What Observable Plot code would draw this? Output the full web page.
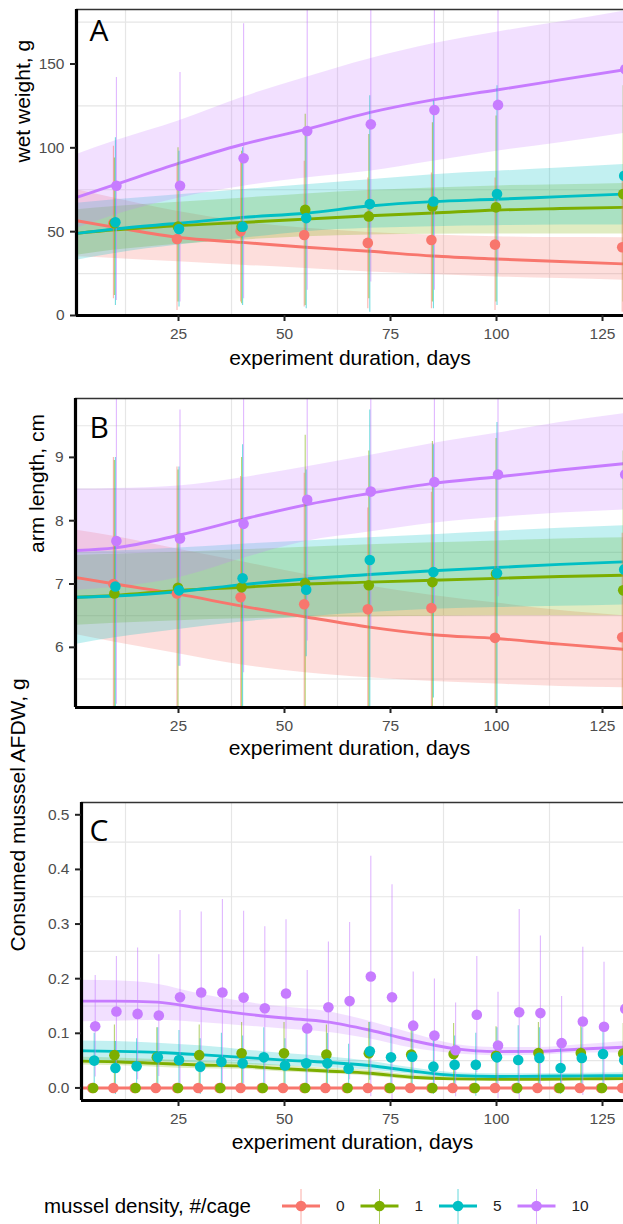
<!DOCTYPE html>
<html><head><meta charset="utf-8">
<script src="https://cdn.jsdelivr.net/npm/d3@7"></script>
<script src="https://cdn.jsdelivr.net/npm/@observablehq/plot@0.6"></script>
<style>
html,body{margin:0;padding:0;background:#fff;overflow:hidden;}
#root{position:relative;width:623px;height:1224px;font-family:"Liberation Sans",Arial,sans-serif;overflow:hidden;}
#root svg{position:absolute;left:0;}
</style></head><body><div id="root"></div>
<script>
// ---------- categories & colours ----------
const groups = ["0", "1", "5", "10"];
const colors = ["#F8766D", "#7CAE00", "#00BFC4", "#C77CFF"];
const legendTitle = "mussel density, #/cage";
const xTitle = "experiment duration, days";
const xTicks = [25, 50, 75, 100, 125];
const xGrid = [12.5, 37.5, 62.5, 87.5, 112.5];

// ---------- Panel A: wet weight ----------
const daysA = [10, 25, 40, 55, 70, 85, 100, 130];
const wet0 = [55.0, 45.6, 50.2, 48.0, 43.3, 45.0, 42.3, 40.7];
const wet1 = [55.0, 53.0, 53.0, 63.0, 59.1, 65.0, 64.5, 72.4];
const wet5 = [55.6, 51.6, 53.0, 58.1, 66.5, 68.0, 72.4, 83.3];
const wet10 = [77.4, 77.4, 93.8, 110.0, 114.0, 122.6, 125.6, 146.8];
const wetLo0 = [10, 3, 8, 5, 4, 4, 3, 2];
const wetHi0 = [101, 90, 93, 92, 82, 85, 82, 80];
const wetLo1 = [12, 8, 7, 6, 10, 8, 8, 8];
const wetHi1 = [94, 100, 98, 120, 108, 115, 119, 137];
const wetLo5 = [6, 5, 6, 4, 2, 4, 6, 10];
const wetHi5 = [106, 98, 100, 112, 131, 128, 137, 155];
const wetLo10 = [9, 8, 10, 15, 20, 15, 25, 30];
const wetHi10 = [142, 145, 174, 210, 215, 230, 230, 260];
const fitDaysA = [1, 10, 25, 40, 55, 70, 85, 100, 115, 130];
const wetFit0 = [56.5, 52.6, 46.5, 43.6, 40.7, 38.3, 35.5, 33.7, 32.2, 30.8];
const wetFit1 = [49, 51.1, 53.6, 55.5, 57.5, 59.5, 61.1, 62.9, 63.8, 64.5];
const wetFit5 = [49, 51.6, 55, 58.5, 61, 65.3, 67.9, 69.3, 70.9, 72.4];
const wetFit10 = [70.4, 78, 90.7, 102, 111, 121, 128.6, 134.5, 140.5, 146.5];
const wetBandLo0 = [35, 34, 32, 30, 28, 26, 24.5, 23, 22, 21];
const wetBandHi0 = [75, 70, 62, 56, 52, 49.5, 48, 47, 46.5, 46.4];
const wetBandLo1 = [36, 39, 42.5, 45, 47, 48, 48.5, 48.6, 48.6, 48.6];
const wetBandHi1 = [63, 65, 67.5, 70, 72.5, 74.5, 76, 77.3, 78, 78.8];
const wetBandLo5 = [33, 37, 42, 46, 50, 52, 53, 53.5, 54, 54];
const wetBandHi5 = [67, 69, 72, 75, 78, 81, 84, 86, 88, 90];
const wetBandLo10 = [52, 60, 70, 77, 82, 86, 92, 98, 103, 108.5];
const wetBandHi10 = [96, 104, 116, 130, 142, 153, 162, 169, 175, 181.5];
const yTicksA = [0, 50, 100, 150];
const yGridA = [25, 75, 125, 175];

// ---------- Panel B: arm length ----------
const daysB = [10, 25, 40, 55, 70, 85, 100, 130];
const arm0 = [7.0, 6.85, 6.79, 6.68, 6.6, 6.62, 6.15, 6.16];
const arm1 = [6.85, 6.94, 6.95, 7.01, 6.98, 7.03, 7.16, 6.9];
const arm5 = [6.96, 6.9, 7.09, 6.91, 7.38, 7.19, 7.17, 7.23];
const arm10 = [7.68, 7.72, 7.95, 8.33, 8.46, 8.61, 8.73, 8.73];
const armLo0 = [4.9, 4.8, 4.9, 4.9, 5.0, 4.8, 4.6, 4.6];
const armHi0 = [9.0, 8.85, 8.7, 8.75, 8.2, 8.45, 8.0, 7.8];
const armLo1 = [4.7, 4.9, 4.9, 4.8, 4.9, 4.8, 4.9, 4.8];
const armHi1 = [8.95, 8.8, 9.0, 9.35, 9.1, 9.25, 9.3, 9.1];
const armLo5 = [4.9, 5.7, 5.0, 5.85, 5.0, 5.2, 4.8, 5.2];
const armHi5 = [9.0, 8.85, 9.2, 8.8, 9.75, 9.2, 9.55, 9.3];
const armLo10 = [5.1, 5.7, 5.6, 6.1, 6.3, 6.6, 6.8, 6.9];
const armHi10 = [10.3, 9.75, 10.3, 10.5, 10.5, 10.5, 10.5, 10.5];
const fitDaysB = [1, 10, 25, 40, 55, 70, 85, 100, 115, 130];
const armFit0 = [7.1, 7.0, 6.84, 6.65, 6.48, 6.32, 6.2, 6.14, 6.05, 5.97];
const armFit1 = [6.79, 6.82, 6.9, 6.95, 7.0, 7.03, 7.06, 7.09, 7.12, 7.14];
const armFit5 = [6.79, 6.81, 6.88, 6.99, 7.08, 7.15, 7.21, 7.26, 7.31, 7.35];
const armFit10 = [7.53, 7.57, 7.77, 8.02, 8.25, 8.43, 8.59, 8.69, 8.8, 8.9];
const armBandLo0 = [6.2, 6.08, 5.9, 5.72, 5.6, 5.52, 5.46, 5.42, 5.38, 5.36];
const armBandHi0 = [7.85, 7.75, 7.55, 7.35, 7.15, 6.97, 6.82, 6.7, 6.58, 6.5];
const armBandLo1 = [6.35, 6.38, 6.42, 6.45, 6.47, 6.48, 6.49, 6.5, 6.5, 6.5];
const armBandHi1 = [7.45, 7.47, 7.5, 7.54, 7.58, 7.62, 7.65, 7.68, 7.71, 7.73];
const armBandLo5 = [6.05, 6.15, 6.28, 6.4, 6.48, 6.55, 6.6, 6.63, 6.65, 6.67];
const armBandHi5 = [7.5, 7.52, 7.57, 7.63, 7.68, 7.73, 7.78, 7.83, 7.88, 7.92];
const armBandLo10 = [6.9, 6.95, 7.1, 7.4, 7.67, 7.82, 7.96, 8.05, 8.12, 8.17];
const armBandHi10 = [8.5, 8.51, 8.55, 8.68, 8.85, 9.03, 9.22, 9.38, 9.55, 9.69];
const yTicksB = [6, 7, 8, 9];
const yGridB = [5.5, 6.5, 7.5, 8.5, 9.5];

// ---------- Panel C: consumed mussel AFDW ----------
const daysC = [5, 10, 15, 20, 25, 30, 35, 40, 45, 50, 55, 60, 65, 70, 75, 80, 85, 90, 95, 100, 105, 110, 115, 120, 125, 130];
const afdw0 = [0, 0, 0, 0, 0, 0, 0, 0, 0, 0, 0, 0, 0, 0, 0, 0, 0, 0, 0, 0, 0, 0, 0, 0, 0, 0];
const afdw1 = [0, 0.06, 0, 0.056, 0, 0.06, 0, 0.0635, 0, 0.0635, 0, 0.061, 0, 0.0635, 0, 0.061, 0, 0.062, 0, 0.059, 0, 0.064, 0, 0.064, 0, 0.063];
const afdw5 = [0.05, 0.0366, 0.0397, 0.056, 0.051, 0.039, 0.048, 0.045, 0.056, 0.041, 0.045, 0.045, 0.035, 0.067, 0.056, 0.057, 0.039, 0.0425, 0.0425, 0.056, 0.051, 0.055, 0.0366, 0.055, 0.062, 0.051];
const afdw10 = [0.113, 0.14, 0.1355, 0.1325, 0.166, 0.1746, 0.1746, 0.1654, 0.146, 0.1728, 0.109, 0.1477, 0.159, 0.204, 0.166, 0.114, 0.0958, 0.069, 0.134, 0.0775, 0.1385, 0.137, 0.082, 0.1215, 0.112, 0.1447];
const afdwLo0 = afdw0;
const afdwHi0 = afdw0;
const afdwLo1 = [0, 0.005, 0, 0.002, 0, 0.005, 0, 0.007, 0, 0.007, 0, 0.007, 0, 0.007, 0, 0.007, 0, 0.006, 0, 0.006, 0, 0.008, 0, 0.008, 0, 0.008];
const afdwHi1 = [0, 0.115, 0, 0.11, 0, 0.115, 0, 0.12, 0, 0.12, 0, 0.115, 0, 0.12, 0, 0.115, 0, 0.118, 0, 0.112, 0, 0.12, 0, 0.12, 0, 0.118];
const afdwLo5 = [0.0, -0.012, -0.01, 0.002, -0.003, -0.012, -0.004, -0.005, 0.002, -0.008, -0.01, -0.01, -0.01, 0.014, 0.002, 0.004, -0.012, -0.01, -0.015, 0.002, -0.012, 0.0, -0.012, 0.0, 0.004, 0.002];
const afdwHi5 = [0.1, 0.085, 0.09, 0.11, 0.105, 0.09, 0.1, 0.095, 0.11, 0.09, 0.1, 0.1, 0.08, 0.12, 0.11, 0.11, 0.09, 0.095, 0.1, 0.11, 0.114, 0.11, 0.085, 0.11, 0.12, 0.1];
const afdwLo10 = [0.02, 0.04, 0.015, 0.021, 0.007, 0.027, 0.004, 0.007, -0.003, 0.038, 0.003, 0.028, 0.015, -0.016, -0.04, 0.016, -0.01, -0.016, 0.028, -0.02, -0.049, -0.004, -0.002, -0.014, -0.006, 0.03];
const afdwHi10 = [0.206, 0.2405, 0.256, 0.244, 0.325, 0.322, 0.345, 0.3236, 0.295, 0.308, 0.215, 0.267, 0.303, 0.424, 0.372, 0.212, 0.1996, 0.1555, 0.2405, 0.175, 0.3266, 0.278, 0.1675, 0.2575, 0.23, 0.26];
const fitDaysC = [2, 10, 20, 30, 40, 50, 60, 70, 80, 90, 100, 110, 120, 130];
const afdwFit0 = [0, 0, 0, 0, 0, 0, 0, 0, 0, 0, 0, 0, 0, 0];
const afdwFit1 = [0.049, 0.048, 0.045, 0.042, 0.04, 0.035, 0.031, 0.027, 0.0195, 0.0165, 0.016, 0.016, 0.0165, 0.017];
const afdwFit5 = [0.068, 0.067, 0.065, 0.061, 0.056, 0.051, 0.047, 0.041, 0.031, 0.023, 0.021, 0.0215, 0.022, 0.0226];
const afdwFit10 = [0.159, 0.159, 0.157, 0.146, 0.136, 0.128, 0.121, 0.106, 0.087, 0.072, 0.0665, 0.067, 0.0714, 0.0745];
const afdwBandLo0 = afdwFit0;
const afdwBandHi0 = afdwFit0;
const afdwBandLo1 = [0.042, 0.041, 0.038, 0.035, 0.034, 0.029, 0.026, 0.022, 0.015, 0.013, 0.013, 0.013, 0.013, 0.013];
const afdwBandHi1 = [0.056, 0.055, 0.052, 0.049, 0.046, 0.041, 0.036, 0.032, 0.024, 0.02, 0.019, 0.019, 0.02, 0.021];
const afdwBandLo5 = [0.05, 0.049, 0.048, 0.046, 0.043, 0.04, 0.037, 0.033, 0.025, 0.018, 0.016, 0.017, 0.017, 0.017];
const afdwBandHi5 = [0.086, 0.085, 0.082, 0.077, 0.07, 0.063, 0.057, 0.049, 0.037, 0.028, 0.026, 0.026, 0.027, 0.028];
const afdwBandLo10 = [0.121, 0.122, 0.124, 0.12, 0.114, 0.108, 0.102, 0.09, 0.073, 0.063, 0.059, 0.06, 0.064, 0.064];
const afdwBandHi10 = [0.197, 0.196, 0.19, 0.172, 0.158, 0.148, 0.14, 0.122, 0.1, 0.08, 0.074, 0.074, 0.079, 0.085];
const yTicksC = [0, 0.1, 0.2, 0.3, 0.4, 0.5];
const yGridC = [0.05, 0.15, 0.25, 0.35, 0.45];

// ---------- table builders ----------
function pointRows(days, means, los, his) {
  const rows = [];
  groups.forEach((g, i) => days.forEach((d, j) => rows.push({day: d, g, mean: means[i][j], lo: los[i][j], hi: his[i][j]})));
  return rows;
}
function fitRows(days, fits, los, his) {
  const rows = [];
  groups.forEach((g, i) => days.forEach((d, j) => rows.push({day: d, g, fit: fits[i][j], blo: los[i][j], bhi: his[i][j]})));
  return rows;
}

const root = document.getElementById("root");
const dodge = [-1.5, -0.5, 0.5, 1.5];

function panel(cfg) {
  const fb = cfg.height - cfg.marginBottom; // frame bottom within svg
  const marks = [
    Plot.ruleY(cfg.yGrid, {stroke: "#e6e6e6", strokeWidth: 1.2}),
    Plot.ruleX(xGrid, {stroke: "#e6e6e6", strokeWidth: 1.2}),
    Plot.areaY(cfg.fits, {x: "day", y1: "blo", y2: "bhi", z: "g", fill: "g", fillOpacity: 0.24, curve: "monotone-x", clip: true}),
    Plot.line(cfg.fits, {x: "day", y: "fit", z: "g", stroke: "g", strokeWidth: 2.9, curve: "monotone-x", clip: true})
  ];
  groups.forEach((g, i) => {
    marks.push(Plot.ruleX(cfg.rows.filter(r => r.g === g), {x: "day", y1: "lo", y2: "hi", stroke: "g", strokeOpacity: 0.55, strokeWidth: 1.1, dx: dodge[i], clip: true}));
  });
  groups.forEach((g, i) => {
    marks.push(Plot.dot(cfg.rows.filter(r => r.g === g), {x: "day", y: "mean", fill: "g", r: 5.3, dx: dodge[i], clip: true}));
  });
  marks.push(
    Plot.ruleY([cfg.yDomain[1]], {stroke: "#333", strokeWidth: 1.3}),
    Plot.ruleX([cfg.xDomain[0]], {stroke: "black", strokeWidth: 3.2}),
    Plot.ruleY([cfg.yDomain[0]], {stroke: "black", strokeWidth: 3.2}),
    Plot.axisX(xTicks, {tickSize: 6, tickPadding: 6, fontSize: 15.5, stroke: "#222", strokeWidth: 2, fill: "#4d4d4d", label: null, tickFormat: d => String(d)}),
    Plot.axisY(cfg.yTicks, {tickSize: 6, tickPadding: 6, fontSize: 15.5, stroke: "#222", strokeWidth: 2, fill: "#4d4d4d", label: null, tickFormat: cfg.tickFormat || (d => String(d))}),
    Plot.text([cfg.yLabel], {frameAnchor: "left", rotate: -90, dx: cfg.yLabelX - cfg.marginLeft, fontSize: 21, fill: "black", lineAnchor: "middle"}),
    Plot.text([xTitle], {frameAnchor: "bottom", dy: cfg.xLabelY - (cfg.top + fb), fontSize: 21, fill: "black", lineAnchor: "middle"}),
    Plot.text([cfg.letter], {frameAnchor: "top-left", dx: 89 - cfg.marginLeft, dy: cfg.letterBase - 0.32 * 30 - (cfg.top + cfg.marginTop), fontSize: 30, fill: "black", textAnchor: "start", lineAnchor: "middle", fontFamily: "'Open Sans', 'Liberation Sans', sans-serif"})
  );
  const svg = Plot.plot({
    width: 623, height: cfg.height,
    marginLeft: cfg.marginLeft, marginRight: 0, marginTop: cfg.marginTop, marginBottom: cfg.marginBottom,
    x: {domain: cfg.xDomain},
    y: {domain: cfg.yDomain},
    color: {domain: groups, range: colors},
    style: {fontFamily: "'Liberation Sans', Arial, sans-serif", background: "transparent", overflow: "visible"},
    marks
  });
  svg.style.top = cfg.top + "px";
  root.appendChild(svg);
}

panel({
  top: 0, height: 372, marginLeft: 76, marginTop: 9, marginBottom: 57,
  xDomain: [0.94, 129.95], yDomain: [0, 182.5], yTicks: yTicksA, yGrid: yGridA,
  rows: pointRows(daysA, [wet0, wet1, wet5, wet10], [wetLo0, wetLo1, wetLo5, wetLo10], [wetHi0, wetHi1, wetHi5, wetHi10]),
  fits: fitRows(fitDaysA, [wetFit0, wetFit1, wetFit5, wetFit10], [wetBandLo0, wetBandLo1, wetBandLo5, wetBandLo10], [wetBandHi0, wetBandHi1, wetBandHi5, wetBandHi10]),
  yLabel: "wet weight, g", yLabelX: 23, xLabelY: 358, letter: "A", letterBase: 40
});
panel({
  top: 372, height: 400, marginLeft: 75, marginTop: 26, marginBottom: 65,
  xDomain: [0.71, 129.95], yDomain: [5.05, 9.93], yTicks: yTicksB, yGrid: yGridB,
  rows: pointRows(daysB, [arm0, arm1, arm5, arm10], [armLo0, armLo1, armLo5, armLo10], [armHi0, armHi1, armHi5, armHi10]),
  fits: fitRows(fitDaysB, [armFit0, armFit1, armFit5, armFit10], [armBandLo0, armBandLo1, armBandLo5, armBandLo10], [armBandHi0, armBandHi1, armBandHi5, armBandHi10]),
  yLabel: "arm length, cm", yLabelX: 37, xLabelY: 748, letter: "B", letterBase: 437
});
panel({
  top: 772, height: 390, marginLeft: 81, marginTop: 30, marginBottom: 62,
  xDomain: [2.12, 129.95], yDomain: [-0.023, 0.5225], yTicks: yTicksC, yGrid: yGridC, tickFormat: d => d.toFixed(1),
  rows: pointRows(daysC, [afdw0, afdw1, afdw5, afdw10], [afdwLo0, afdwLo1, afdwLo5, afdwLo10], [afdwHi0, afdwHi1, afdwHi5, afdwHi10]),
  fits: fitRows(fitDaysC, [afdwFit0, afdwFit1, afdwFit5, afdwFit10], [afdwBandLo0, afdwBandLo1, afdwBandLo5, afdwBandLo10], [afdwBandHi0, afdwBandHi1, afdwBandHi5, afdwBandHi10]),
  yLabel: "Consumed musssel AFDW, g", yLabelX: 18, xLabelY: 1142, letter: "C", letterBase: 840
});

// ---------- legend ----------
const lg = d3.select(root).append("svg").attr("width", 623).attr("height", 38).style("top", "1186px");
const cy = 20;
lg.append("text").attr("x", 44).attr("y", cy).attr("dy", "0.35em").attr("font-size", 20.5).attr("fill", "black").text(legendTitle);
const keyX = [301, 379.5, 458, 536.5];
groups.forEach((g, i) => {
  const cx = keyX[i];
  lg.append("line").attr("x1", cx).attr("x2", cx).attr("y1", 3).attr("y2", 38).attr("stroke", colors[i]).attr("stroke-width", 1).attr("stroke-opacity", 0.6);
  lg.append("line").attr("x1", cx - 19).attr("x2", cx + 19).attr("y1", cy).attr("y2", cy).attr("stroke", colors[i]).attr("stroke-width", 3);
  lg.append("circle").attr("cx", cx).attr("cy", cy).attr("r", 5.3).attr("fill", colors[i]);
  lg.append("text").attr("x", cx + 35).attr("y", cy).attr("dy", "0.35em").attr("font-size", 15.5).attr("fill", "#222").text(g);
});
</script></body></html>
